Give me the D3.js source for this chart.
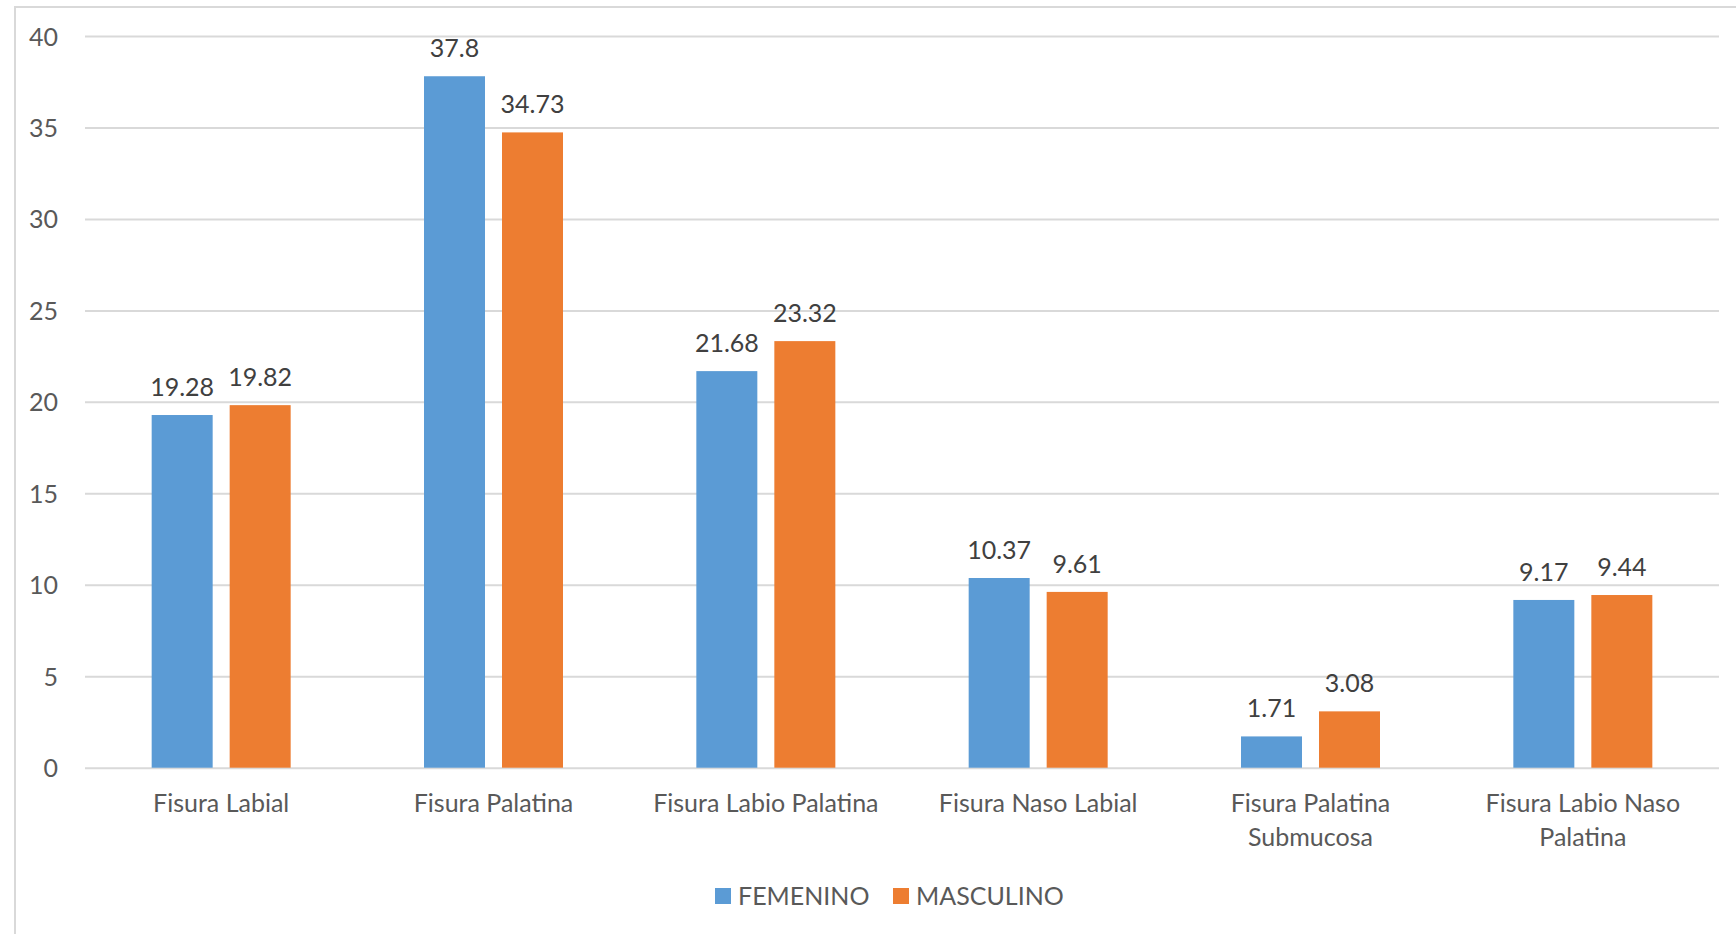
<!DOCTYPE html>
<html>
<head>
<meta charset="utf-8">
<script src="https://cdn.jsdelivr.net/npm/d3@7"></script>
<style>
  html, body { margin: 0; padding: 0; background: #fff; }
  svg { display: block; }
  text { font-family: Lato, "Open Sans", sans-serif; }
</style>
</head>
<body>
<svg id="chart" width="1736" height="934"></svg>
<script>
// Categories (multi-line labels split on "|")
const categories = [
  "Fisura Labial",
  "Fisura Palatina",
  "Fisura Labio Palatina",
  "Fisura Naso Labial",
  "Fisura Palatina|Submucosa",
  "Fisura Labio Naso|Palatina"
];
const seriesNames = ["FEMENINO", "MASCULINO"];
const femenino  = [19.28, 37.8, 21.68, 10.37, 1.71, 9.17];
const masculino = [19.82, 34.73, 23.32, 9.61, 3.08, 9.44];
const yTicks = [0, 5, 10, 15, 20, 25, 30, 35, 40];
const colors = ["#5B9BD5", "#ED7D31"];

const svg = d3.select("#chart");
const W = 1736, H = 934;

// chart area frame (top and left edges visible)
svg.append("path")
  .attr("d", `M15,${H} L15,7 L${W},7`)
  .attr("fill", "none")
  .attr("stroke", "#d9d9d9")
  .attr("stroke-width", 2);

const plot = { left: 85, right: 1719, top: 36, bottom: 767.7 };

const y = d3.scaleLinear().domain([0, 40]).range([plot.bottom, plot.top]);
const x0 = d3.scaleBand().domain(categories).range([plot.left, plot.right])
  .paddingInner(0.4896).paddingOuter(0.2448);
const x1 = d3.scaleBand().domain(seriesNames).range([0, x0.bandwidth()])
  .paddingInner(0.218).paddingOuter(0);

// gridlines + y labels
const yAxis = d3.axisLeft(y).tickValues(yTicks).tickSize(-(plot.right - plot.left)).tickPadding(27).tickFormat(d3.format("d"));
const gy = svg.append("g").attr("transform", `translate(${plot.left},0)`).call(yAxis);
gy.select(".domain").remove();
gy.selectAll(".tick line").attr("stroke", "#d9d9d9").attr("stroke-width", 2);
gy.selectAll(".tick text")
  .attr("fill", "#595959")
  .style("font-size", "25px")
  .attr("dy", "0.36em");

// bars
const rows = categories.map((c, i) => ({ cat: c, vals: [femenino[i], masculino[i]] }));
const groups = svg.append("g").selectAll("g").data(rows).join("g")
  .attr("transform", d => `translate(${x0(d.cat)},0)`);

groups.selectAll("rect").data(d => d.vals.map((v, j) => ({ v, s: seriesNames[j], j })))
  .join("rect")
  .attr("x", d => x1(d.s))
  .attr("y", d => y(d.v))
  .attr("width", x1.bandwidth())
  .attr("height", d => y(0) - y(d.v))
  .attr("fill", d => colors[d.j]);

groups.selectAll("text.val").data(d => d.vals.map((v, j) => ({ v, s: seriesNames[j], j })))
  .join("text")
  .attr("class", "val")
  .attr("x", d => x1(d.s) + x1.bandwidth() / 2)
  .attr("y", d => y(d.v) - 19)
  .attr("text-anchor", "middle")
  .attr("fill", "#404040")
  .style("font-size", "25px")
  .text(d => String(d.v));

// category labels
const xl = svg.append("g");
categories.forEach(c => {
  const lines = c.split("|");
  const t = xl.append("text")
    .attr("x", x0(c) + x0.bandwidth() / 2)
    .attr("y", 812)
    .attr("text-anchor", "middle")
    .attr("fill", "#595959")
    .style("font-size", "25px");
  lines.forEach((ln, k) => {
    t.append("tspan").attr("x", x0(c) + x0.bandwidth() / 2).attr("y", 812 + k * 34).text(ln);
  });
});

// legend
const legend = svg.append("g");
const legendItems = [
  { name: seriesNames[0], color: colors[0], x: 715 },
  { name: seriesNames[1], color: colors[1], x: 893 }
];
legendItems.forEach(it => {
  legend.append("rect").attr("x", it.x).attr("y", 888).attr("width", 16).attr("height", 16).attr("fill", it.color);
  legend.append("text").attr("x", it.x + 23).attr("y", 905)
    .attr("fill", "#595959").style("font-size", "25px").text(it.name);
});
</script>
</body>
</html>
